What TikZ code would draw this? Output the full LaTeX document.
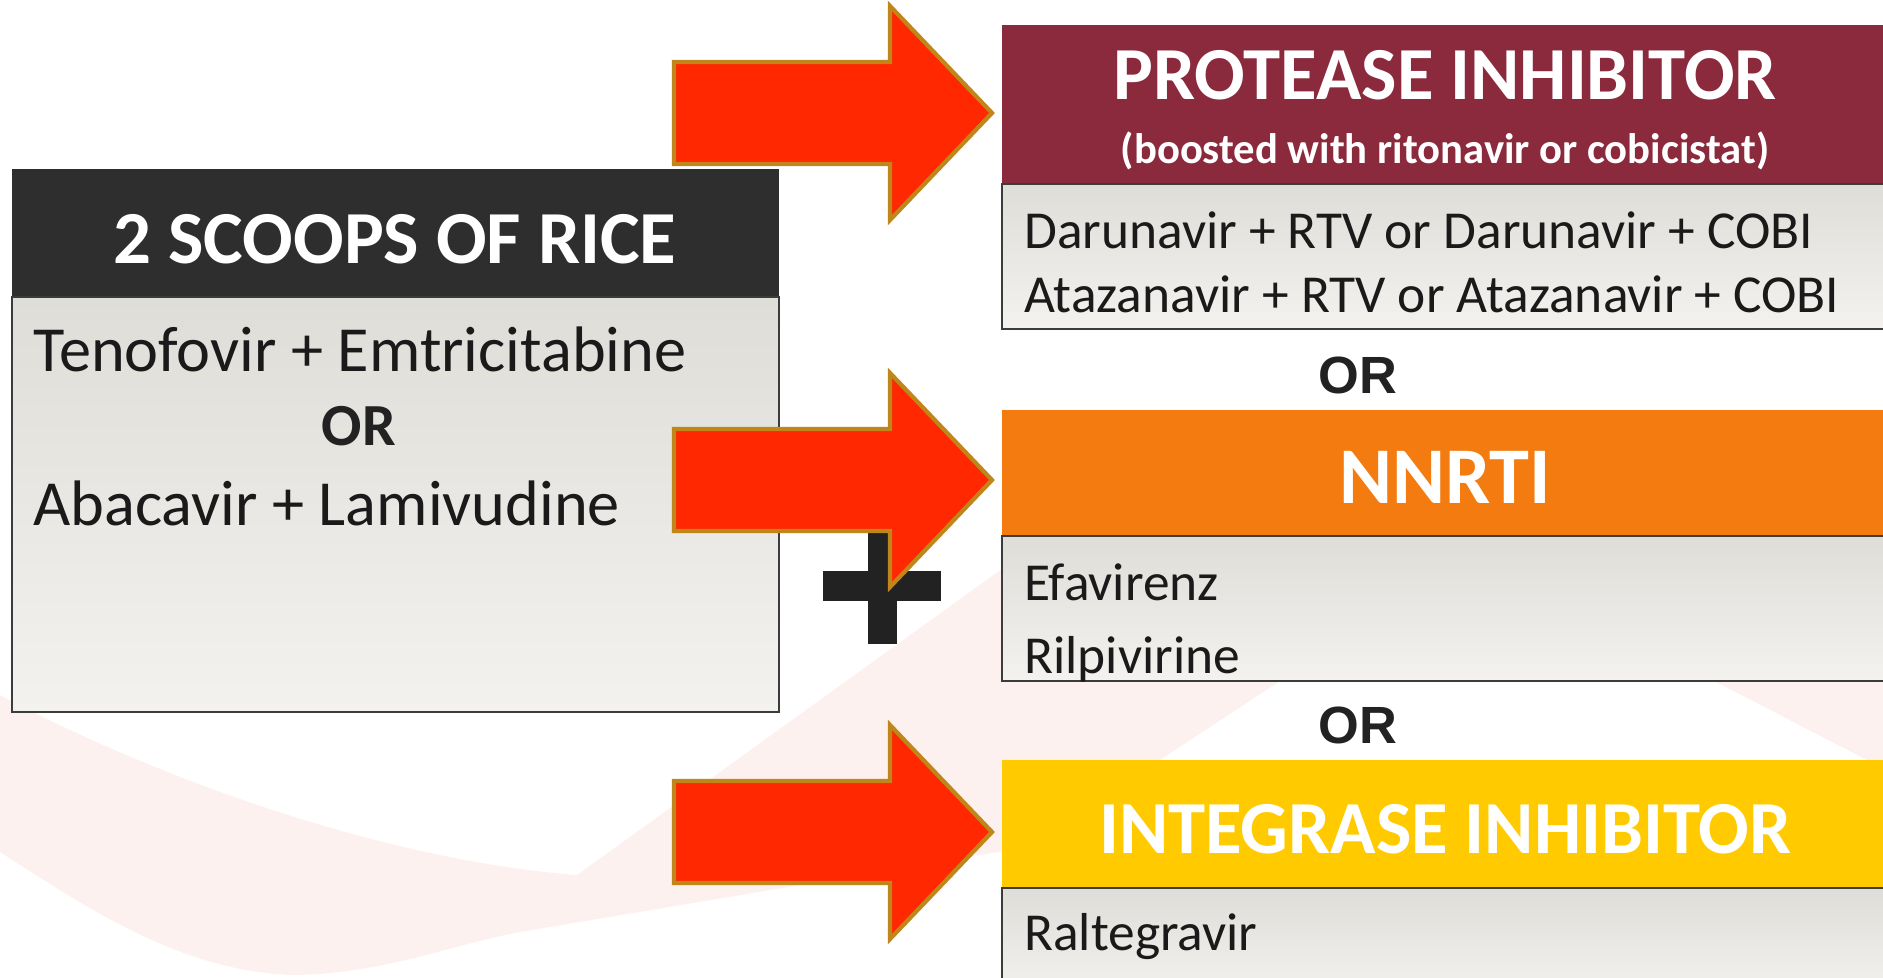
\documentclass[tikz,border=0pt]{standalone}
\usepackage{fontspec}
\setmainfont{Carlito}
\newfontfamily\arialfont{Liberation Sans}
\definecolor{scoopgray}{HTML}{2E2E2E}
\definecolor{pired}{HTML}{8B2A3D}
\definecolor{nnrtiorange}{HTML}{F47B0F}
\definecolor{intyellow}{HTML}{FFCA00}
\definecolor{bodytop}{HTML}{DEDDD8}
\definecolor{bodybot}{HTML}{F3F2EF}
\definecolor{boxline}{HTML}{3C3C3C}
\definecolor{arrowred}{HTML}{FF2800}
\definecolor{arrowrim}{HTML}{C0861A}
\definecolor{swoosh}{HTML}{FDF1EF}
\definecolor{plusgray}{HTML}{222222}
\definecolor{inkgray}{HTML}{1A1A1A}

\begin{document}
\begin{tikzpicture}[x=0.02cm,y=-0.02cm]
  \tikzset{
    every node/.style={inner sep=0pt},
    hdrtext/.style={text=white,anchor=base,font=\bfseries\fontsize{42.6}{50}\selectfont},
    bodytext/.style={text=inkgray,anchor=base west,font=\fontsize{30.4}{36}\selectfont},
    ortext/.style={text=plusgray,anchor=base,font=\arialfont\bfseries\fontsize{29.8}{36}\selectfont},
    bodybox/.style={draw=boxline,line width=1.1pt,top color=bodytop,bottom color=bodybot},
    bigarrow/.style={fill=arrowred,draw=arrowrim,line width=2.4pt,miter limit=10}
  }
  \useasboundingbox (0,0) rectangle (1883,977);
  \clip (0,0) rectangle (1883,977);

  % pale swoosh in the background
  \fill[swoosh] (0,695) .. controls (150,775) and (380,860) .. (577,875)
    -- (1060,527) -- (1499,527) -- (1277,683) -- (1160,760) -- (1010,850)
    -- (783,888) -- (520,932) .. controls (450,945) and (380,975) .. (290,975)
    .. controls (180,970) and (90,910) .. (0,852) -- cycle;
  \fill[swoosh] (1403,520) -- (1890,520) -- (1890,772) -- cycle;

  % backbone box
  \fill[scoopgray] (12,169) rectangle (779,297);
  \draw[bodybox] (12,297) rectangle (779,712);

  % third drug boxes
  \fill[pired] (1002,25) rectangle (1890,184);
  \draw[bodybox] (1002,184) rectangle (1890,329);
  \fill[nnrtiorange] (1002,410) rectangle (1890,536);
  \draw[bodybox] (1002,536) rectangle (1890,681);
  \fill[intyellow] (1002,760) rectangle (1890,888);
  \draw[bodybox] (1002,888) rectangle (1890,995);

  % plus sign
  \fill[plusgray] (823,571) rectangle (941,601);
  \fill[plusgray] (868,520) rectangle (897,644);

  % block arrows
  \foreach \cy in {113,480,832}
    \draw[bigarrow] (674,\cy-51) -- (890,\cy-51) -- (890,\cy-107) -- (992,\cy)
      -- (890,\cy+107) -- (890,\cy+51) -- (674,\cy+51) -- cycle;

  \node[hdrtext] (scoops) at (395,263) {2 SCOOPS OF RICE};
  \node[bodytext,font=\fontsize{36.6}{44}\selectfont] (tenofovir) at (33,371) {Tenofovir + Emtricitabine};
  \node[text=plusgray,anchor=base,font=\bfseries\fontsize{34}{40}\selectfont] (orleft) at (359,445) {OR};
  \node[bodytext,font=\fontsize{36.6}{44}\selectfont] (abacavir) at (33,525) {Abacavir + Lamivudine};

  \node[hdrtext] (protease) at (1445,99) {PROTEASE INHIBITOR};
  \node[hdrtext,font=\bfseries\fontsize{24.3}{29}\selectfont] (boosted) at (1445,163) {(boosted with ritonavir or cobicistat)};
  \node[bodytext] (darunavir) at (1024,248) {Darunavir + RTV or Darunavir + COBI};
  \node[bodytext] (atazanavir) at (1024,312) {Atazanavir + RTV or Atazanavir + COBI};
  \node[ortext] (orone) at (1358,393) {OR};

  \node[hdrtext,font=\bfseries\fontsize{45.8}{54}\selectfont] (nnrti) at (1445,503) {NNRTI};
  \node[bodytext] (efavirenz) at (1024,600) {Efavirenz};
  \node[bodytext] (rilpivirine) at (1024,673) {Rilpivirine};
  \node[ortext] (ortwo) at (1358,743) {OR};

  \node[hdrtext] (integrase) at (1445,853) {INTEGRASE INHIBITOR};
  \node[bodytext] (raltegravir) at (1024,950) {Raltegravir};
\end{tikzpicture}
\end{document}
